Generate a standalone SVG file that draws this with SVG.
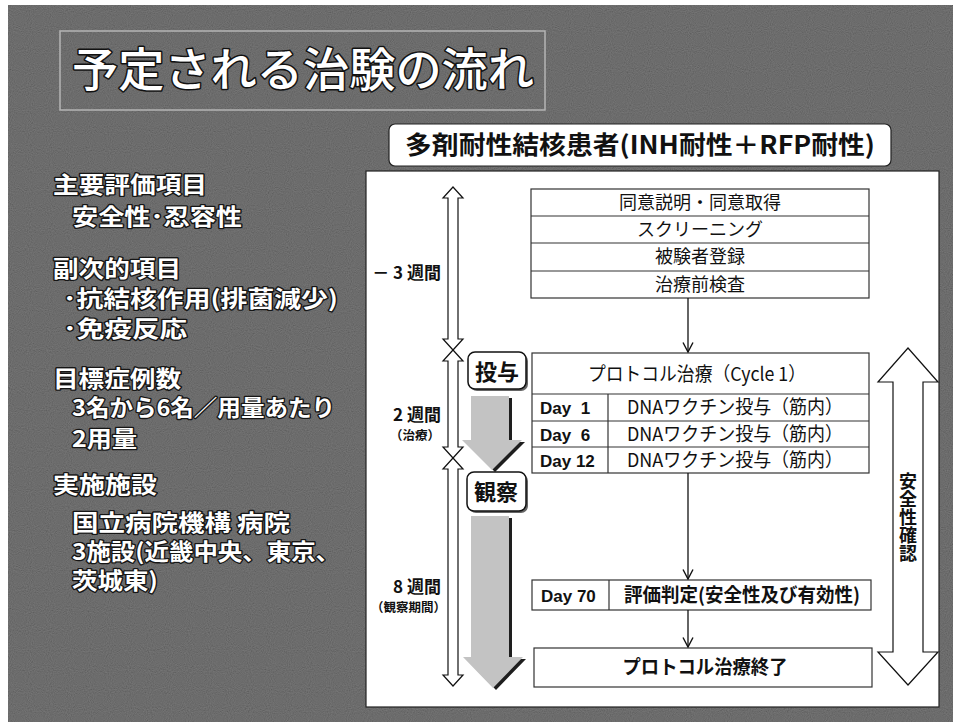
<svg xmlns="http://www.w3.org/2000/svg" width="953" height="722" viewBox="0 0 953 722">
<style>
.jp{font-family:"Noto Sans CJK JP","Noto Sans",sans-serif}
.lat{font-family:"Liberation Sans","Noto Sans CJK JP",sans-serif}
.side{font-family:"Noto Sans CJK JP",sans-serif;font-weight:bold;font-size:22.5px;fill:#fff;stroke:#151515;stroke-width:2.6;paint-order:stroke;stroke-linejoin:round}
.title{font-family:"Noto Sans CJK JP",sans-serif;font-size:46px;font-weight:500;fill:#fff;stroke:#111;stroke-width:3;paint-order:stroke;stroke-linejoin:round}
.box{fill:#fff;stroke:#333;stroke-width:1.2}
.ln{stroke:#333;stroke-width:1.2;fill:none}
.t18{font-size:18px;fill:#111}
.t19{font-size:19px;fill:#111}
.day{font-size:17px;font-weight:bold;fill:#111}
.lbl{font-size:17px;font-weight:bold;fill:#111}
.sm{font-size:12.5px;font-weight:bold;fill:#111}
.hollow{fill:#fff;stroke:#111;stroke-width:1.2;stroke-linejoin:miter}
.conn{stroke:#111;stroke-width:1.3;fill:none}
.gray{fill:#c3c3c3}
.shadow{fill:#1e1e1e}
</style>
<defs>
<filter id="grain" x="0" y="0" width="1" height="1">
<feTurbulence type="fractalNoise" baseFrequency="0.95" numOctaves="1" seed="4"/>
<feColorMatrix type="matrix" values="0.33 0.33 0.33 0 0  0.33 0.33 0.33 0 0  0.33 0.33 0.33 0 0  0 0 0 0 1"/>
</filter>
<marker id="ah" viewBox="0 0 11 12" refX="10" refY="6" markerWidth="11" markerHeight="12" markerUnits="userSpaceOnUse" orient="auto">
<path d="M0.5,1 L10,6 L0.5,11" fill="none" stroke="#111" stroke-width="1.4"/>
</marker>
</defs>

<g id="background">
<rect x="0" y="0" width="953" height="722" fill="#fff"/>
<rect x="8" y="5" width="945" height="717" fill="#474747"/>
<rect x="8" y="5" width="945" height="717" filter="url(#grain)" opacity="0.32"/>
</g>

<g id="title">
<rect x="60" y="31" width="485" height="79" fill="none" stroke="#b5b5b5" stroke-width="1.5"/>
<text class="title" x="72" y="86" textLength="462" lengthAdjust="spacingAndGlyphs">予定される治験の流れ</text>
</g>

<g id="summary">
<text class="side" x="53" y="193" textLength="154" lengthAdjust="spacingAndGlyphs">主要評価項目</text>
<text class="side" x="72" y="225" textLength="170" lengthAdjust="spacingAndGlyphs">安全性･忍容性</text>
<text class="side" x="53" y="277" textLength="128" lengthAdjust="spacingAndGlyphs">副次的項目</text>
<text class="side" x="63" y="307" textLength="275" lengthAdjust="spacingAndGlyphs">･抗結核作用(排菌減少)</text>
<text class="side" x="63" y="337" textLength="124" lengthAdjust="spacingAndGlyphs">･免疫反応</text>
<text class="side" x="53" y="387" textLength="128" lengthAdjust="spacingAndGlyphs">目標症例数</text>
<text class="side" x="72" y="416" textLength="263" lengthAdjust="spacingAndGlyphs">3名から6名／用量あたり</text>
<text class="side" x="72" y="447" textLength="65" lengthAdjust="spacingAndGlyphs">2用量</text>
<text class="side" x="53" y="493" textLength="104" lengthAdjust="spacingAndGlyphs">実施施設</text>
<text class="side" x="72" y="531" textLength="218" lengthAdjust="spacingAndGlyphs">国立病院機構 病院</text>
<text class="side" x="72" y="560" textLength="268" lengthAdjust="spacingAndGlyphs">3施設(近畿中央、東京、</text>
<text class="side" x="72" y="589" textLength="86" lengthAdjust="spacingAndGlyphs">茨城東)</text>
</g>

<g id="subject">
<rect x="389" y="124" width="502" height="42" rx="6" fill="#fff" stroke="#222" stroke-width="1.2"/>
<text class="jp" x="640" y="154" text-anchor="middle" font-size="25" font-weight="bold" fill="#111" textLength="470" lengthAdjust="spacingAndGlyphs">多剤耐性結核患者(INH耐性＋RFP耐性)</text>
</g>

<g id="panel">
<rect x="366" y="171" width="573" height="536" fill="#fff" stroke="#222" stroke-width="1.2"/>
</g>

<g id="period-arrows">
<polygon class="hollow" points="453,187 463,198 458,198 458,339 463,339 453,350 443,339 448,339 448,198 443,198"/>
<polygon class="hollow" points="453,350 463,361 458,361 458,447 463,447 453,458 443,447 448,447 448,361 443,361"/>
<polygon class="hollow" points="453,458 463,469 458,469 458,675 463,675 453,686 443,675 448,675 448,469 443,469"/>
<text class="jp lbl" x="441" y="279" text-anchor="end">－ 3 週間</text>
<text class="jp lbl" x="441" y="421" text-anchor="end">2 週間</text>
<text class="jp sm" x="440" y="440" text-anchor="end">（治療）</text>
<text class="jp lbl" x="441" y="593" text-anchor="end">8 週間</text>
<text class="jp sm" x="446" y="612" text-anchor="end">（観察期間）</text>
</g>

<g id="phase-arrows">
<polygon class="shadow" transform="translate(3,2)" points="471,396 509,396 509,440 522,440 492,470 462,440 471,440"/>
<polygon class="gray" points="471,396 509,396 509,440 522,440 492,470 462,440 471,440"/>
<polygon class="shadow" transform="translate(3,2)" points="471,516 509,516 509,657 523,657 493,688 463,657 471,657"/>
<polygon class="gray" points="471,516 509,516 509,657 523,657 493,688 463,657 471,657"/>
</g>

<g id="dosing">
<rect x="470" y="354" width="58" height="37" rx="7" fill="#666"/>
<rect x="468" y="352" width="58" height="37" rx="7" fill="#fff" stroke="#111" stroke-width="1.5"/>
<text class="jp" x="497" y="380" text-anchor="middle" font-size="22" font-weight="bold" fill="#111">投与</text>
</g>

<g id="observation">
<rect x="469" y="474" width="59" height="39" rx="7" fill="#666"/>
<rect x="467" y="472" width="59" height="39" rx="7" fill="#fff" stroke="#111" stroke-width="1.5"/>
<text class="jp" x="496" y="500" text-anchor="middle" font-size="22" font-weight="bold" fill="#111">観察</text>
</g>

<g id="pre-steps">
<rect class="box" x="531" y="189" width="338" height="109"/>
<line class="ln" x1="531" y1="216" x2="869" y2="216"/>
<line class="ln" x1="531" y1="243" x2="869" y2="243"/>
<line class="ln" x1="531" y1="271" x2="869" y2="271"/>
<text class="jp t18" x="700" y="209" text-anchor="middle">同意説明・同意取得</text>
<text class="jp t18" x="700" y="236" text-anchor="middle">スクリーニング</text>
<text class="jp t18" x="700" y="263" text-anchor="middle">被験者登録</text>
<text class="jp t18" x="700" y="291" text-anchor="middle">治療前検査</text>
</g>

<g id="protocol">
<rect class="box" x="532" y="353" width="337" height="120"/>
<line class="ln" x1="532" y1="394" x2="869" y2="394"/>
<line class="ln" x1="532" y1="421" x2="869" y2="421"/>
<line class="ln" x1="532" y1="447" x2="869" y2="447"/>
<line class="ln" x1="608" y1="394" x2="608" y2="473"/>
<text class="jp t19" x="697" y="381" text-anchor="middle" textLength="218" lengthAdjust="spacingAndGlyphs">プロトコル治療（Cycle 1）</text>
<text class="lat day" x="540" y="414" xml:space="preserve">Day  1</text>
<text class="lat day" x="540" y="441" xml:space="preserve">Day  6</text>
<text class="lat day" x="540" y="467">Day 12</text>
<text class="jp t19" x="627" y="414" textLength="216" lengthAdjust="spacingAndGlyphs">DNAワクチン投与（筋内）</text>
<text class="jp t19" x="627" y="441" textLength="216" lengthAdjust="spacingAndGlyphs">DNAワクチン投与（筋内）</text>
<text class="jp t19" x="627" y="467" textLength="216" lengthAdjust="spacingAndGlyphs">DNAワクチン投与（筋内）</text>
</g>

<g id="evaluation">
<rect class="box" x="532" y="580" width="339" height="30"/>
<line class="ln" x1="609" y1="580" x2="609" y2="610"/>
<text class="lat day" x="541" y="602">Day 70</text>
<text class="jp t19" x="624" y="602" font-weight="bold" textLength="236" lengthAdjust="spacingAndGlyphs">評価判定(安全性及び有効性)</text>
</g>

<g id="end">
<rect class="box" x="534" y="648" width="338" height="39"/>
<text class="jp t19" x="705" y="674" text-anchor="middle" font-weight="bold" textLength="165" lengthAdjust="spacingAndGlyphs">プロトコル治療終了</text>
</g>

<g id="safety">
<polygon class="hollow" points="908,348 938,382 923,382 923,652 938,652 908,685 878,652 893,652 893,382 878,382"/>
<text class="jp" x="908" y="472" writing-mode="vertical-rl" font-size="18" font-weight="bold" fill="#111">安全性確認</text>
</g>

<g id="connectors">
<line class="conn" x1="688" y1="298" x2="688" y2="352" marker-end="url(#ah)"/>
<line class="conn" x1="688" y1="473" x2="688" y2="579" marker-end="url(#ah)"/>
<line class="conn" x1="688" y1="610" x2="688" y2="647" marker-end="url(#ah)"/>
</g>
</svg>
